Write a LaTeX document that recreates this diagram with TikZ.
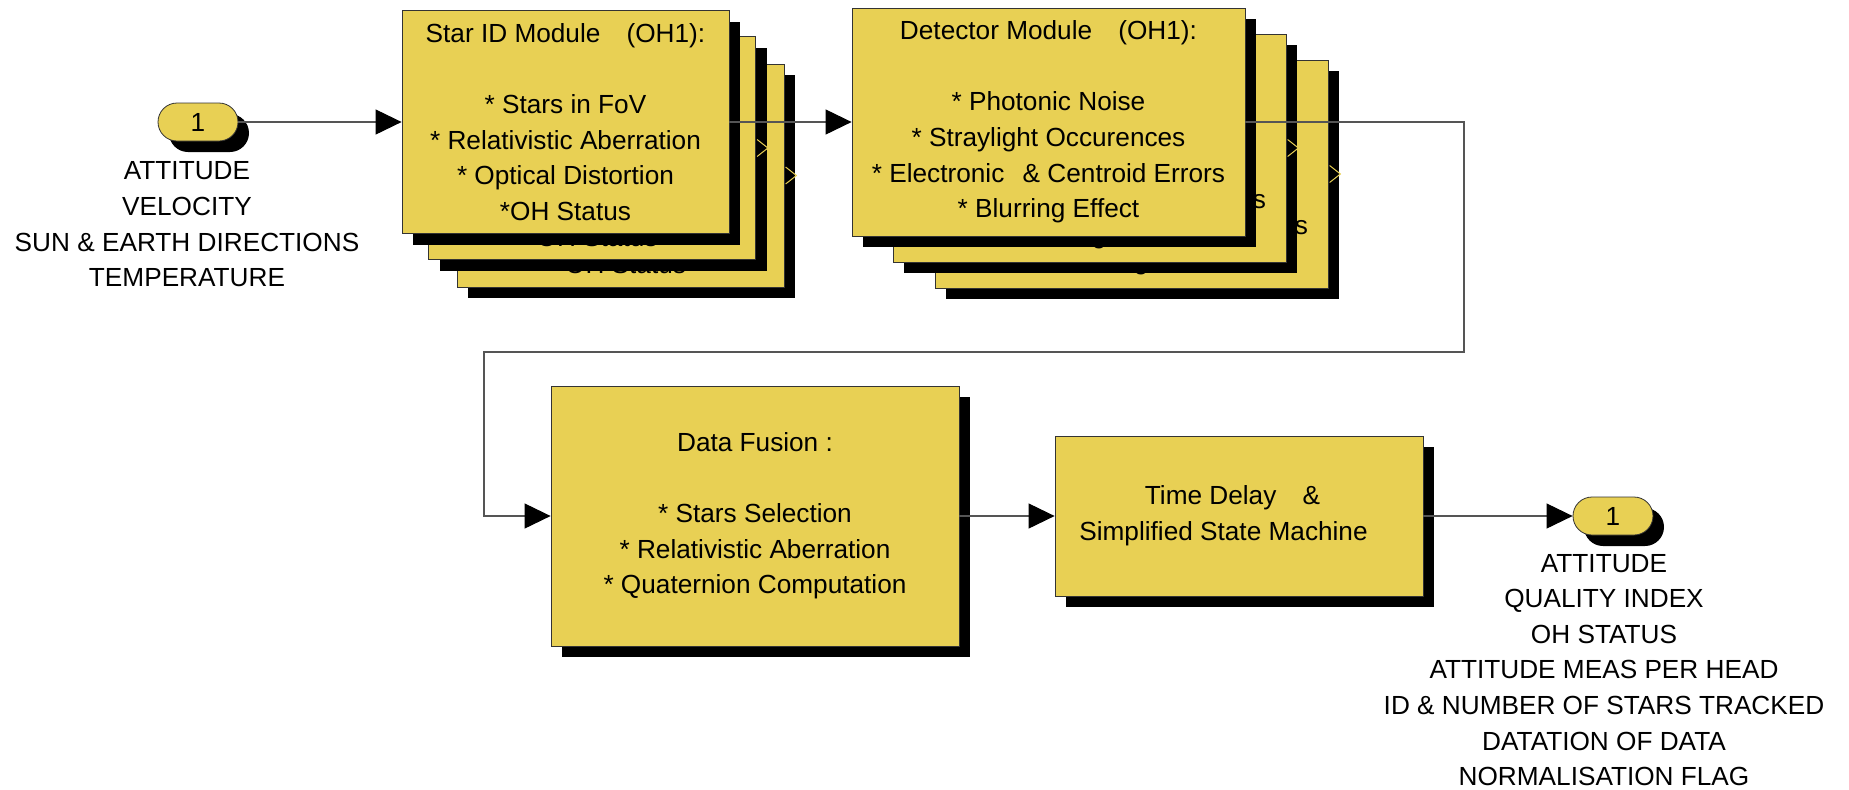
\documentclass[tikz,border=0pt]{standalone}
\usepackage{fontspec}
\setmainfont{Liberation Sans}
\usetikzlibrary{arrows.meta,shadows}
\definecolor{blockfill}{RGB}{232,208,84}
\definecolor{wirecol}{RGB}{85,85,85}
\newcommand\lbl{\fontsize{13.1}{17.8}\selectfont}
% block texts, repeated on the stacked copies
\newcommand\staridtext{Star ID Module\hspace{1em}(OH1):\\[17.8pt]{*} Stars in FoV\\{*} Relativistic Aberration\\{*} Optical Distortion\\{*}OH Status}
\newcommand\detectortext{Detector Module\hspace{1em}(OH1):\\[17.8pt]{*} Photonic Noise\\{*} Straylight Occurences\\{*} Electronic\hspace{0.7em}\& Centroid Errors\\{*} Blurring Effect}
\begin{document}
\begin{tikzpicture}[x=0.5pt,y=-0.5pt,
  blk/.style={draw=black!80, line width=0.4pt, fill=blockfill, inner sep=0pt,
    align=center, font=\lbl,
    drop shadow={shadow xshift=5.5pt, shadow yshift=-5.5pt, fill=black, opacity=1}},
  stbox/.style={blk, minimum width=163.5pt, minimum height=111.5pt},
  dtbox/.style={blk, minimum width=196.5pt, minimum height=114pt},
  portbox/.style={blk, rounded corners=9.5pt, minimum width=40pt, minimum height=19pt},
  wire/.style={draw=wirecol, line width=0.55pt},
  arrowhd/.style={-{Triangle[length=13pt,width=12.5pt,color=black]}},
  chev/.style={draw=blockfill, line width=0.5pt},
  sig/.style={align=center, font=\lbl, inner sep=0pt}]
\useasboundingbox (0,0) rectangle (1849,789);

% input port and its signal names
\node[portbox] (in) at (198,122) {1};
\node[sig] (inlbl) at (187,224.5) {ATTITUDE\\VELOCITY\\SUN \& EARTH DIRECTIONS\\TEMPERATURE};

% Star ID module, three optical heads stacked
\node[stbox] (sid3) at (620.5,175.5) {\staridtext};
\node[stbox] (sid2) at (592,148) {\staridtext};
\node[stbox] (sid1) at (565.5,122) {\staridtext};

% detector module, three optical heads stacked
\node[dtbox] (det3) at (1131.5,174) {\detectortext};
\node[dtbox] (det2) at (1089.5,148) {\detectortext};
\node[dtbox] (det1) at (1048.5,122) {\detectortext};

% open output ports of the hidden copies
\foreach \b in {sid2,sid3,det2,det3}{
  \draw[chev] ([xshift=0.6pt,yshift=4.25pt]\b.east) -- ([xshift=6pt]\b.east)
    -- ([xshift=0.6pt,yshift=-4.25pt]\b.east);
}

% fusion and output stage
\node[blk, minimum width=204pt, minimum height=130pt] (fus) at (755,516)
  {Data Fusion :\\[17.8pt]{*} Stars Selection\\{*} Relativistic Aberration\\{*} Quaternion Computation};
\node[blk, minimum width=184pt, minimum height=80pt] (td) at (1239,516)
  {Time Delay\hspace{1em}\&\rule{6.5pt}{0pt}\\Simplified State Machine\rule{15.5pt}{0pt}};

% output port and its signal names
\node[portbox] (out) at (1613,516) {1};
\node[sig] (outlbl) at (1604,670) {ATTITUDE\\QUALITY INDEX\\OH STATUS\\ATTITUDE MEAS PER HEAD\\ID \& NUMBER OF STARS TRACKED\\DATATION OF DATA\\NORMALISATION FLAG};

% wiring
\coordinate (c1) at (1464,122);
\coordinate (c2) at (1464,352);
\coordinate (c3) at (484,352);
\coordinate (c4) at (484,516);
\draw[wire, arrowhd] (in.east) -- (sid1.west);
\draw[wire, arrowhd] (sid1.east) -- (det1.west);
\draw[wire, arrowhd] (det1.east) -- (c1) -- (c2) -- (c3) -- (c4) -- (fus.west);
\draw[wire, arrowhd] (fus.east) -- (td.west);
\draw[wire, arrowhd] (td.east) -- (out.west);
\end{tikzpicture}
\end{document}
